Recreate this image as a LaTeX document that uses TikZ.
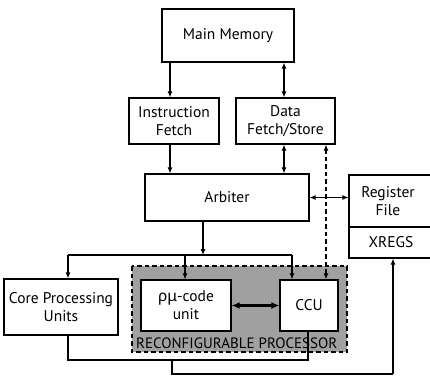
\documentclass[tikz,border=0pt]{standalone}
\usepackage{fontspec}
\setmainfont{PT Sans}
\newfontfamily\greekfont{Noto Sans}
\usetikzlibrary{arrows.meta}
\begin{document}
\begin{tikzpicture}[x=1pt,y=-1pt,
  box/.style={draw, line width=1.2pt, fill=white, inner sep=0pt, align=center, font=\fontsize{15.5}{18}\selectfont},
  txt/.style={inner sep=0pt, align=center, font=\fontsize{15.5}{18}\selectfont},
  wire/.style={line width=1.1pt},
  dashline/.style={dash pattern=on 4.5pt off 3pt},
  conn/.style={line width=1.1pt, -{Latex[length=6pt,width=5pt]}},
  bconn/.style={line width=1.1pt, {Latex[length=6pt,width=5pt]}-{Latex[length=6pt,width=5pt]}},
  fatconn/.style={line width=2.2pt, {Latex[length=8pt,width=7pt]}-{Latex[length=8pt,width=7pt]}}]
\useasboundingbox (0,0) rectangle (430,377);
% reconfigurable region
\draw[line width=1.1pt, dashline, fill={rgb,255:red,160;green,160;blue,160}] (132,266) rectangle (347,352);
\node[anchor=west, inner sep=0pt, font=\fontsize{15}{17}\selectfont] (rplabel) at (136,343) {RECONFIGURABLE PROCESSOR};
% boxes
\node[box, minimum width=132, minimum height=53] (mm) at (228,35.5) {Main Memory};
\node[box, minimum width=90, minimum height=46] (if) at (174,121) {Instruction\\Fetch};
\node[box, minimum width=99, minimum height=46] (dfs) at (285.5,121) {Data\\Fetch/Store};
\node[box, minimum width=164, minimum height=47] (arb) at (227,197.5) {Arbiter};
\node[box, minimum width=86, minimum height=52] (reg) at (392,201) {};
\node[txt] (regt) at (388,201) {Register\\File};
\node[box, minimum width=86, minimum height=31] (xr) at (392,242.5) {};
\node[txt] (xrt) at (391,242.5) {XREGS};
\node[box, minimum width=114, minimum height=56] (core) at (61,307) {Core Processing\\Units};
\node[box, minimum width=90, minimum height=51] (mu) at (186,305.5) {{\greekfont ρμ}-code\\unit};
\node[box, minimum width=58, minimum height=51] (ccu) at (309,305.5) {CCU};
% helper coordinates
\coordinate (cA) at (170,0);
\coordinate (cB) at (284,0);
\coordinate (cD) at (326,0);
\coordinate (cE) at (203,0);
\coordinate (cF) at (68,0);
\coordinate (cG) at (185,0);
\coordinate (cH) at (292,0);
\coordinate (cI) at (308,0);
\coordinate (cJ) at (172,0);
\coordinate (cK) at (393,0);
\coordinate (bus) at (0,255);
\coordinate (r1) at (0,360);
\coordinate (r2) at (0,374);
% connectors
\draw[conn] (mm.south -| cA) -- (if.north -| cA);
\draw[bconn] (mm.south -| cB) -- (dfs.north -| cB);
\draw[conn] (if.south -| cA) -- (arb.north -| cA);
\draw[bconn] (dfs.south -| cB) -- (arb.north -| cB);
\draw[bconn, dashline] (ccu.north -| cD) -- (dfs.south -| cD);
\draw[bconn] (arb.east) -- (arb.east -| reg.west);
\draw[conn] (arb.south -| cE) -- (bus -| cE);
\draw[wire] (bus -| cF) -- (bus -| cH);
\draw[conn] (bus -| cF) -- (core.north -| cF);
\draw[conn] (bus -| cG) -- (mu.north -| cG);
\draw[conn] (bus -| cH) -- (ccu.north -| cH);
\draw[fatconn] (mu.east) -- (ccu.west);
\draw[wire] (core.south -| cF) -- (r1 -| cF) -- (r1 -| cI) -- (ccu.south -| cI);
\draw[wire] (r1 -| cJ) -- (r2 -| cJ) -- (r2 -| cK);
\draw[conn] (r2 -| cK) -- (xr.south -| cK);
\end{tikzpicture}
\end{document}
